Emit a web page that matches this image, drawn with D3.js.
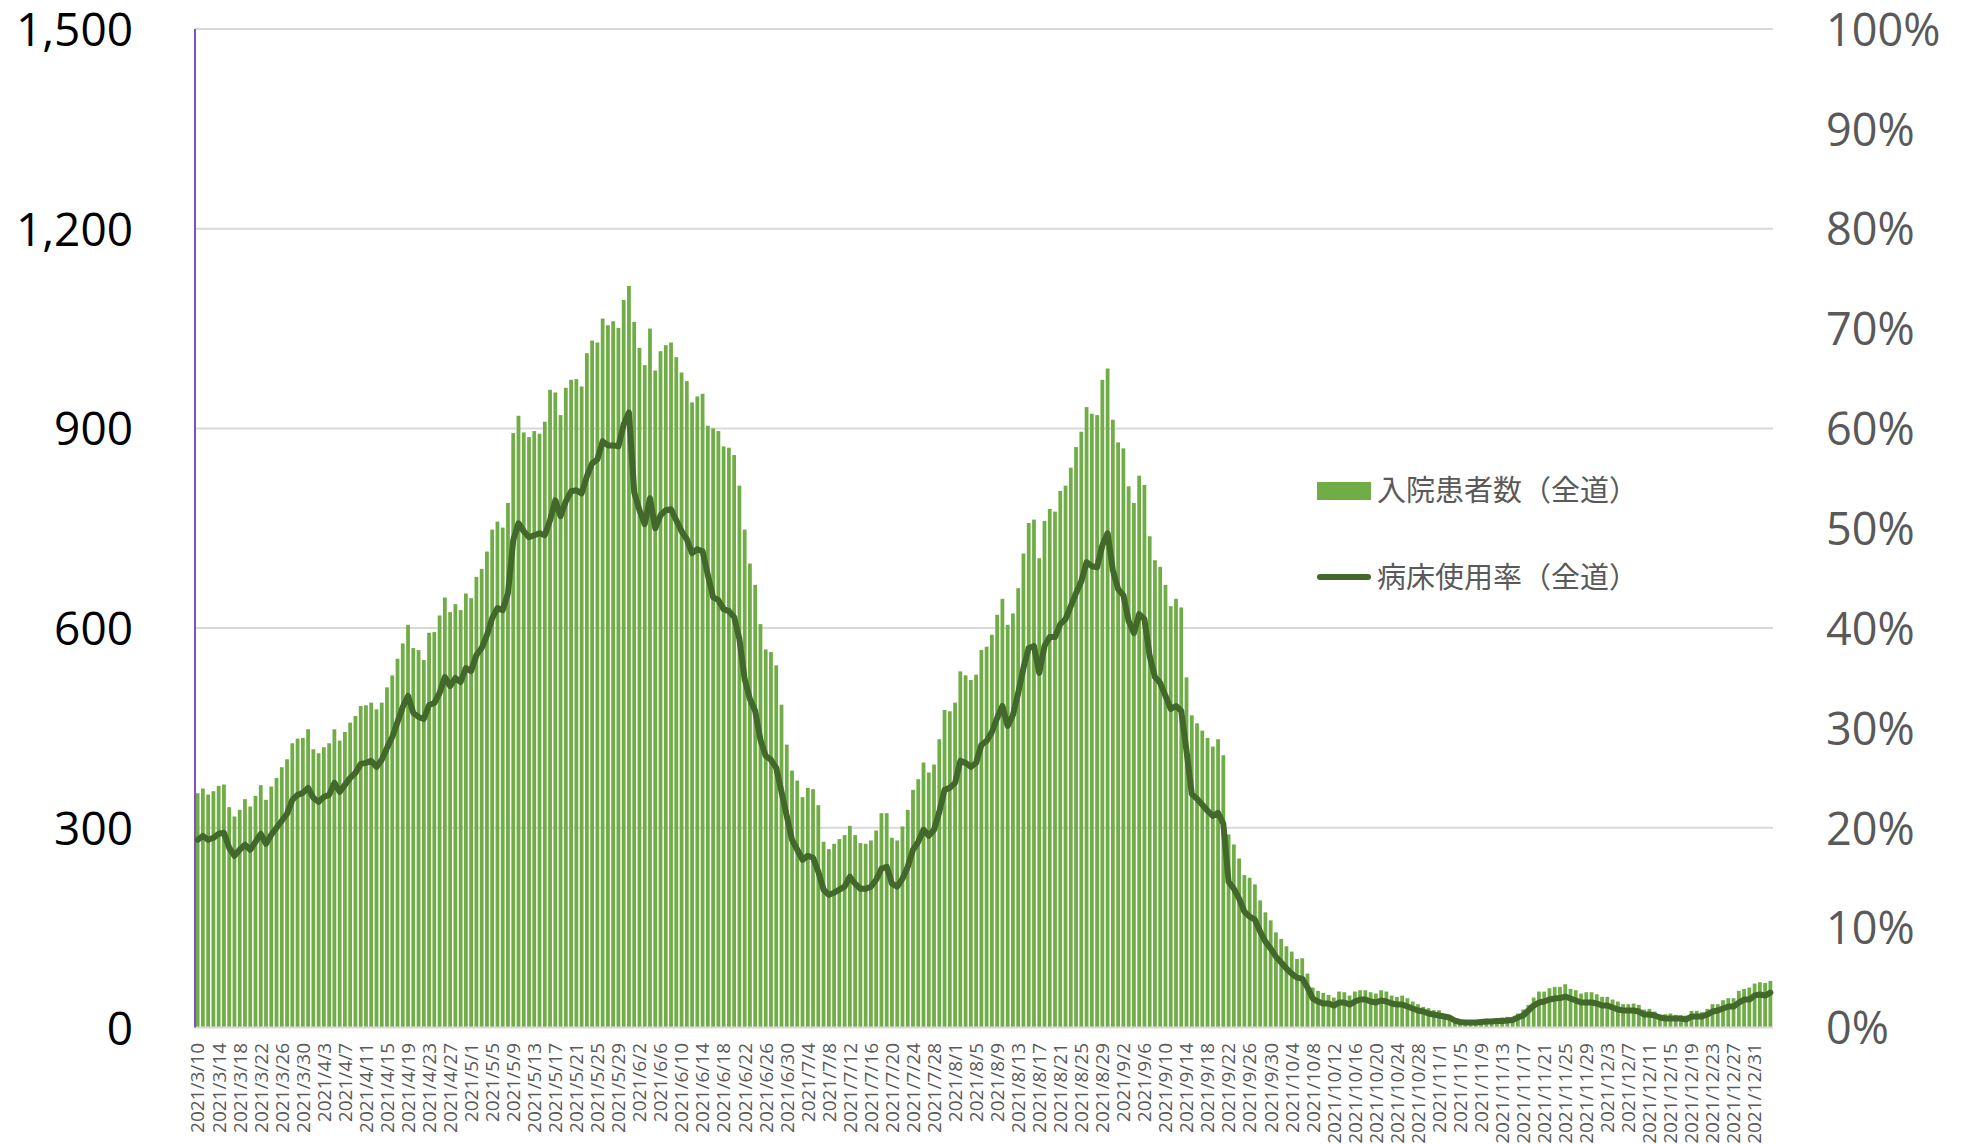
<!DOCTYPE html>
<html>
<head>
<meta charset="utf-8">
<script src="https://cdn.jsdelivr.net/npm/d3@7"></script>
<style>
  body { margin: 0; background: #fff; }
  svg { display: block; }
</style>
</head>
<body>
<svg width="1962" height="1144"></svg>
<script>
// dates: one bar per day, 2021/3/10 .. 2022/1/3
const startDate = new Date(2021, 2, 10);
const endDate = new Date(2022, 0, 4);

// 入院患者数（全道）
const patients = [
  352,359,350,355,363,365,331,317,327,343,332,348,364,342,362,375,391,403,427,434,
  435,448,418,412,421,427,448,431,444,458,468,483,484,488,478,488,511,529,554,577,
  605,570,567,552,593,594,619,646,624,636,627,652,645,677,689,715,748,760,751,788,
  893,919,894,887,896,892,910,958,954,920,961,973,974,963,1013,1032,1029,1065,1055,1061,
  1051,1093,1114,1060,1021,995,1050,987,1016,1025,1029,1007,984,971,939,948,952,904,900,896,
  873,871,860,814,748,697,665,606,568,564,544,485,425,386,371,346,360,358,334,279,
  268,276,283,289,303,289,277,276,281,296,322,322,285,281,302,327,357,373,398,383,
  395,433,477,475,488,535,529,522,530,567,572,590,620,644,605,622,660,712,758,763,
  705,761,779,775,806,814,841,872,895,932,922,920,973,990,913,879,870,813,788,829,
  815,738,702,692,665,633,644,631,526,469,457,446,435,422,433,409,290,275,254,
  229,225,215,191,173,161,143,133,122,114,103,104,81,60,55,52,49,45,54,53,
  48,54,56,56,53,51,56,54,48,46,48,44,39,35,31,29,26,26,18,18,
  12,9,8,9,10,12,13,13,14,15,16,16,21,27,34,45,54,54,59,61,
  61,65,58,56,51,53,53,50,46,46,42,39,35,35,36,34,27,28,24,19,
  20,21,19,18,18,25,25,23,28,35,35,41,44,44,55,58,60,66,68,67,
  70
];

// 病床使用率（全道） in %
const bedRate = [
  18.8,19.2,18.8,19.0,19.4,19.5,18.0,17.2,17.8,18.3,17.8,18.6,19.4,18.4,19.3,20.0,20.7,21.4,22.8,23.3,
  23.5,24.0,23.0,22.6,23.1,23.3,24.5,23.6,24.3,25.0,25.5,26.4,26.5,26.7,26.1,26.8,28.0,29.1,30.6,32.1,
  33.2,31.5,31.1,30.9,32.3,32.5,33.5,35.1,34.2,35.0,34.6,36.0,35.7,37.3,38.0,39.3,41.0,42.0,41.8,43.5,
  48.8,50.5,49.7,49.1,49.3,49.5,49.3,50.8,52.8,51.2,52.7,53.7,53.8,53.5,55.2,56.5,56.9,58.7,58.3,58.3,
  58.2,60.4,61.6,53.6,51.8,50.4,53.0,50.0,51.3,51.8,51.9,50.8,49.7,48.9,47.5,47.9,47.7,45.3,43.1,42.8,
  41.9,41.7,41.1,38.9,34.9,32.9,31.7,28.8,27.2,26.8,26.0,23.6,21.2,18.8,17.8,16.8,17.2,17.0,15.6,13.8,
  13.3,13.5,13.8,14.1,15.1,14.4,13.9,13.9,14.1,14.8,15.9,16.1,14.4,14.1,14.9,16.1,17.8,18.6,19.8,19.2,
  19.8,21.6,23.8,24.0,24.5,26.7,26.5,26.1,26.5,28.3,28.7,29.6,31.0,32.2,30.2,31.3,33.5,36.0,38.0,38.2,
  35.5,38.2,39.1,39.1,40.4,40.9,42.2,43.5,44.7,46.6,46.2,46.1,48.3,49.5,45.8,43.9,43.3,40.7,39.5,41.4,
  40.9,37.2,35.1,34.5,33.2,31.9,32.2,31.7,27.7,23.4,22.9,22.3,21.7,21.2,21.5,20.4,14.6,13.9,12.9,
  11.6,11.1,10.8,9.6,8.6,7.9,7.1,6.5,5.9,5.4,5.0,4.9,4.0,2.9,2.6,2.4,2.4,2.2,2.5,2.5,
  2.3,2.6,2.8,2.8,2.6,2.5,2.7,2.6,2.4,2.3,2.3,2.1,1.9,1.7,1.6,1.4,1.3,1.2,1.1,1.0,
  0.7,0.55,0.5,0.5,0.5,0.55,0.6,0.6,0.65,0.65,0.7,0.75,1.0,1.2,1.7,2.2,2.5,2.6,2.8,2.9,
  2.95,3.1,2.9,2.7,2.5,2.5,2.5,2.4,2.2,2.2,2.0,1.8,1.7,1.7,1.7,1.6,1.3,1.3,1.2,1.0,
  0.9,0.9,0.9,0.9,0.8,1.1,1.1,1.1,1.3,1.6,1.7,1.9,2.1,2.1,2.5,2.8,2.8,3.2,3.3,3.2,
  3.5
];

const leftTicks = [0, 300, 600, 900, 1200, 1500];
const rightTicks = [0, 0.1, 0.2, 0.3, 0.4, 0.5, 0.6, 0.7, 0.8, 0.9, 1.0];
const legendLabels = ["入院患者数（全道）", "病床使用率（全道）"];

const barColor = "#70ad47";
const lineColor = "#43682b";
const textGray = "#595959";

const dates = d3.timeDay.range(startDate, endDate);
const fmtDate = d => d.getFullYear() + "/" + (d.getMonth() + 1) + "/" + d.getDate();

const plotL = 195, plotR = 1773, plotT = 29, plotB = 1027.5;

const svg = d3.select("svg");

const x = d3.scaleBand()
    .domain(dates.map(fmtDate))
    .range([plotL, plotR])
    .paddingInner(0.28)
    .paddingOuter(0.14);

const yL = d3.scaleLinear().domain([0, 1500]).range([plotB, plotT]);
const yR = d3.scaleLinear().domain([0, 1]).range([plotB, plotT]);

// gridlines
svg.append("g")
  .selectAll("line")
  .data(leftTicks.filter(d => d > 0))
  .join("line")
    .attr("x1", plotL).attr("x2", plotR)
    .attr("y1", d => yL(d)).attr("y2", d => yL(d))
    .attr("stroke", "#d9d9d9")
    .attr("stroke-width", 2);

// bars
svg.append("g")
  .selectAll("rect")
  .data(dates)
  .join("rect")
    .attr("x", d => x(fmtDate(d)))
    .attr("width", x.bandwidth())
    .attr("y", (d, i) => yL(patients[i]))
    .attr("height", (d, i) => plotB - yL(patients[i]))
    .attr("fill", barColor);

// baseline
svg.append("line")
    .attr("x1", plotL).attr("x2", plotR)
    .attr("y1", plotB).attr("y2", plotB)
    .attr("stroke", "#d9d9d9")
    .attr("stroke-width", 2);

// purple left axis line
svg.append("line")
    .attr("x1", plotL).attr("x2", plotL)
    .attr("y1", plotT).attr("y2", plotB)
    .attr("stroke", "#8050c0")
    .attr("stroke-width", 2);

// line series
const line = d3.line()
    .x((d, i) => x(fmtDate(dates[i])) + x.bandwidth() / 2)
    .y(d => yR(d / 100));

svg.append("path")
    .datum(bedRate.slice(0, dates.length))
    .attr("d", line)
    .attr("fill", "none")
    .attr("stroke", lineColor)
    .attr("stroke-width", 6)
    .attr("stroke-linejoin", "round")
    .attr("stroke-linecap", "round");

// left axis
const gL = svg.append("g")
    .attr("transform", "translate(133,0)")
    .call(d3.axisLeft(yL).tickValues(leftTicks).tickFormat(d3.format(",")).tickSize(0).tickPadding(0));
gL.select(".domain").remove();
gL.selectAll("text")
    .attr("font-family", "'Open Sans', sans-serif")
    .attr("font-size", 46)
    .attr("fill", "#000")
    .attr("dy", "0.36em");

// right axis
const gR = svg.append("g")
    .attr("transform", "translate(1826,0)")
    .call(d3.axisRight(yR).tickValues(rightTicks).tickFormat(d3.format(".0%")).tickSize(0).tickPadding(0));
gR.select(".domain").remove();
gR.selectAll("text")
    .attr("font-family", "'Open Sans', sans-serif")
    .attr("font-size", 45)
    .attr("fill", textGray)
    .attr("dy", "0.36em");

// x axis (every 4th day)
const gX = svg.append("g")
    .attr("transform", "translate(0,1043)")
    .call(d3.axisBottom(x)
      .tickValues(x.domain().filter((d, i) => i % 4 === 0))
      .tickSize(0).tickPadding(0));
gX.select(".domain").remove();
gX.selectAll("text")
    .attr("font-family", "'Open Sans', sans-serif")
    .attr("font-size", 19)
    .attr("fill", textGray)
    .attr("text-anchor", "end")
    .attr("transform", "rotate(-90)")
    .attr("x", 0)
    .attr("y", 0)
    .attr("dy", "0.36em");

// legend
const lg = svg.append("g").attr("font-family", "'Noto Sans CJK JP', sans-serif")
    .attr("font-size", 29).attr("fill", textGray);
lg.append("rect")
    .attr("x", 1317).attr("y", 482).attr("width", 54).attr("height", 18)
    .attr("fill", barColor);
lg.append("text")
    .attr("x", 1377).attr("y", 491).attr("dy", "0.36em")
    .text(legendLabels[0]);
lg.append("line")
    .attr("x1", 1320).attr("x2", 1368).attr("y1", 577).attr("y2", 577)
    .attr("stroke", lineColor).attr("stroke-width", 6).attr("stroke-linecap", "round");
lg.append("text")
    .attr("x", 1377).attr("y", 578).attr("dy", "0.36em")
    .text(legendLabels[1]);
</script>
</body>
</html>
